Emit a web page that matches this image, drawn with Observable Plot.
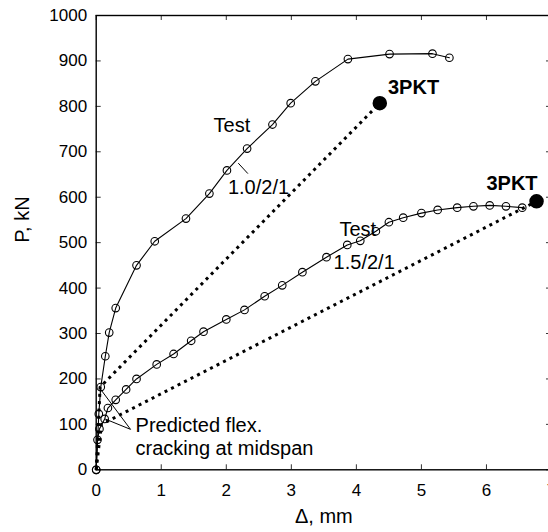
<!DOCTYPE html>
<html>
<head>
<meta charset="utf-8">
<script src="https://cdn.jsdelivr.net/npm/d3@7"></script>
<script src="https://cdn.jsdelivr.net/npm/@observablehq/plot@0.6"></script>
<style>
  html, body { margin: 0; padding: 0; background: white; }
  svg { overflow: hidden; }
</style>
</head>
<body>
<div id="chart"></div>
<script>
// Test curve, specimen 1.0/2/1
const test1X = [0, 0.04, 0.07, 0.14, 0.2, 0.3, 0.62, 0.9, 1.38, 1.74, 2.01, 2.32, 2.71, 2.99, 3.37, 3.87, 4.51, 5.17, 5.43];
const test1P = [0, 123, 182, 250, 302, 356, 450, 503, 553, 608, 659, 707, 760, 807, 855, 904, 915, 916, 907];
// Test curve, specimen 1.5/2/1
const test2X = [0, 0.02, 0.05, 0.13, 0.18, 0.3, 0.46, 0.62, 0.93, 1.19, 1.46, 1.65, 2.0, 2.28, 2.59, 2.86, 3.17, 3.54, 3.86, 4.06, 4.3, 4.5, 4.72, 5.0, 5.25, 5.55, 5.8, 6.05, 6.3, 6.55];
const test2P = [0, 66, 90, 112, 136, 154, 177, 200, 232, 255, 284, 304, 331, 352, 382, 406, 435, 468, 495, 504, 525, 545, 555, 565, 572, 577, 580, 582, 580, 577];
// Predicted (3PKT) curves
const pred1X = [0, 0.06, 4.36];
const pred1P = [0, 182, 807];
const pred2X = [0, 0.08, 6.77];
const pred2P = [0, 100, 591];
// Annotations
const noteText = ["Test", "Test", "1.0/2/1", "1.5/2/1", "Predicted flex.", "cracking at midspan"];
const noteX = [1.805, 3.74, 2.025, 3.65, 0.605, 0.605];
const noteP = [757, 529, 622, 455, 97, 46];
const pktText = ["3PKT", "3PKT"];
const pktX = [4.486, 6.0];
const pktP = [841, 629];
const leaderX1 = [2.184, 0.528, 0.528];
const leaderP1 = [675, 89, 89];
const leaderX2 = [2.332, 0.074, 0.135];
const leaderP2 = [652, 176, 112];
// Ticks
const xTicks = [0, 1, 2, 3, 4, 5, 6, 7];
const yTicks = [0, 100, 200, 300, 400, 500, 600, 700, 800, 900, 1000];

const font = "'Liberation Sans', Arial, Helvetica, sans-serif";
const pts = (xs, ps) => xs.map((x, i) => ({x, p: ps[i]}));
const t1 = pts(test1X, test1P), t2 = pts(test2X, test2P);
const p1 = pts(pred1X, pred1P), p2 = pts(pred2X, pred2P);
const notes = noteText.map((t, i) => ({t, x: noteX[i], p: noteP[i]}));
const pkts = pktText.map((t, i) => ({t, x: pktX[i], p: pktP[i]}));
const ends = [p1[p1.length - 1], p2[p2.length - 1]];
const leaders = leaderX1.map((x1, i) => ({x1, y1: leaderP1[i], x2: leaderX2[i], y2: leaderP2[i]}));

const chart = Plot.plot({
  width: 548,
  height: 532,
  marginLeft: 95.7,
  marginTop: 15,
  marginBottom: 62.7,
  marginRight: -3,
  style: {fontFamily: font, fontSize: "17px", background: "white", color: "black", overflow: "hidden"},
  x: {domain: [0, 7], ticks: xTicks, tickSize: 0, tickPadding: 14, tickFormat: "d", label: null},
  y: {domain: [0, 1000], ticks: yTicks, tickSize: 0, tickPadding: 9, tickFormat: "d", label: null},
  marks: [
    Plot.ruleX(xTicks, {x: d => d, y1: 0, y2: 11, stroke: "#333"}),
    Plot.ruleX(xTicks, {x: d => d, y1: 1000, y2: 989, stroke: "#333"}),
    Plot.ruleY(yTicks, {y: d => d, x1: 0, x2: 0.077, stroke: "#333"}),
    Plot.ruleY(yTicks, {y: d => d, x1: 7, x2: 6.923, stroke: "#333"}),
    Plot.line(p1, {x: "x", y: "p", stroke: "black", strokeWidth: 3, strokeDasharray: "3,4.3", strokeLinecap: "butt"}),
    Plot.line(p2, {x: "x", y: "p", stroke: "black", strokeWidth: 3, strokeDasharray: "3,4.3", strokeLinecap: "butt"}),
    Plot.line(t1, {x: "x", y: "p", stroke: "black", strokeWidth: 1.1}),
    Plot.line(t2, {x: "x", y: "p", stroke: "black", strokeWidth: 1.1}),
    Plot.dot(t1, {x: "x", y: "p", r: 3.8, stroke: "black", strokeWidth: 1.1, fill: "none"}),
    Plot.dot(t2, {x: "x", y: "p", r: 3.8, stroke: "black", strokeWidth: 1.1, fill: "none"}),
    Plot.dot(ends, {x: "x", y: "p", r: 6.5, fill: "black", stroke: "black"}),
    Plot.link(leaders, {x1: "x1", y1: "y1", x2: "x2", y2: "y2", stroke: "black", strokeWidth: 1}),
    Plot.text(notes, {x: "x", y: "p", text: "t", textAnchor: "start", fontSize: 20, fill: "black"}),
    Plot.text(pkts, {x: "x", y: "p", text: "t", textAnchor: "start", fontSize: 20, fontWeight: "bold", fill: "black"}),
    Plot.text(["P, kN"], {frameAnchor: "left", dx: -74, rotate: -90, fontSize: 20, fill: "black"}),
    Plot.text(["Δ, mm"], {frameAnchor: "bottom", dy: 53, fontSize: 20, fill: "black"}),
    Plot.frame({stroke: "black", strokeWidth: 1.4})
  ]
});
document.getElementById("chart").appendChild(chart);
</script>
</body>
</html>
